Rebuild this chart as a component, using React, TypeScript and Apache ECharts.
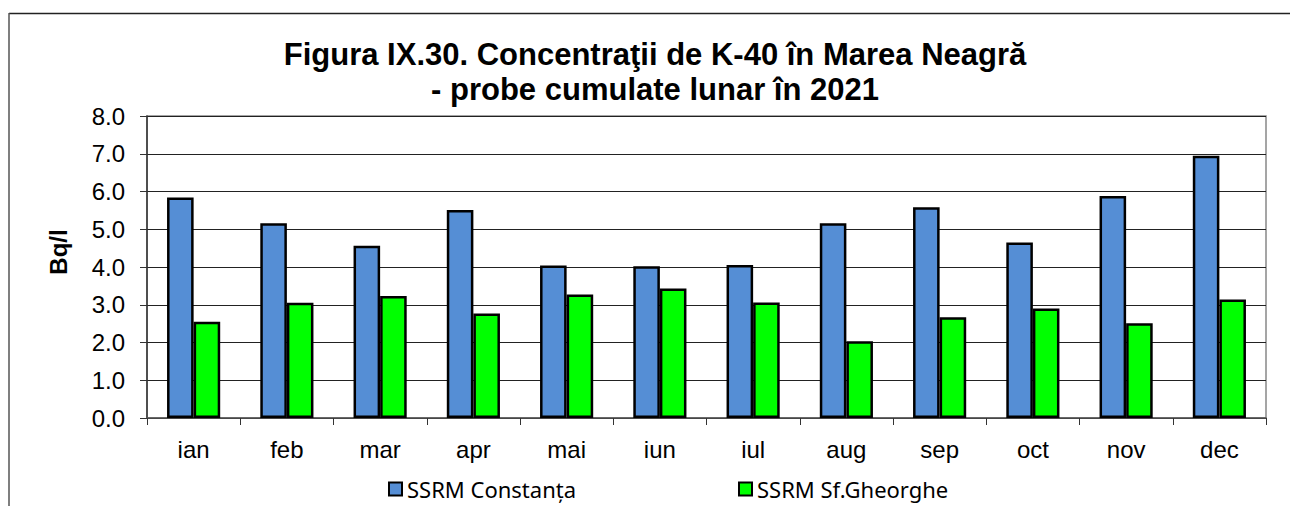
import React, { useEffect, useRef } from "react";
import * as echarts from "echarts";

const months = ["ian", "feb", "mar", "apr", "mai", "iun", "iul", "aug", "sep", "oct", "nov", "dec"];
const constanta = [5.84, 5.16, 4.56, 5.51, 4.04, 4.02, 4.05, 5.16, 5.58, 4.65, 5.88, 6.95];
const sfGheorghe = [2.55, 3.05, 3.23, 2.77, 3.27, 3.43, 3.06, 2.03, 2.67, 2.9, 2.51, 3.14];
const seriesNames = ["SSRM Constanța", "SSRM Sf.Gheorghe"];
const titleText = "Figura IX.30. Concentraţii de K-40 în Marea Neagră\n- probe cumulate lunar în 2021";
const yName = "Bq/l";

export default function App() {
  const ref = useRef<HTMLDivElement>(null);
  useEffect(() => {
    document.body.style.margin = "0";
    const chart = echarts.init(ref.current!, null, { renderer: "svg" });
    const legendText = { fontFamily: "Noto Sans", fontSize: 22, lineHeight: 26, color: "#000" };
    chart.setOption({
      animation: false,
      backgroundColor: "#fff",
      title: {
        text: titleText,
        left: 650,
        top: 32,
        textAlign: "center",
        textStyle: {
          fontFamily: "Liberation Sans",
          fontWeight: "bold",
          fontSize: 31,
          lineHeight: 35,
          color: "#000",
        },
      },
      grid: { left: 147, top: 116, right: 24, bottom: 88, show: true, borderColor: "#888", borderWidth: 1.5, backgroundColor: "transparent" },
      legend: [
        {
          data: [seriesNames[0]],
          left: 386,
          top: 474,
          padding: 2,
          itemWidth: 13,
          itemHeight: 13,
          itemGap: 6,
          icon: "rect",
          textStyle: legendText,
        },
        {
          data: [seriesNames[1]],
          left: 736,
          top: 474,
          padding: 2,
          itemWidth: 13,
          itemHeight: 13,
          icon: "rect",
          textStyle: legendText,
        },
      ],
      xAxis: {
        type: "category",
        data: months,
        boundaryGap: true,
        axisLine: { show: true, lineStyle: { color: "#555", width: 1.5 } },
        axisTick: { show: true, interval: 0, length: 7, lineStyle: { color: "#333" } },
        axisLabel: { fontFamily: "Liberation Sans", fontSize: 24, color: "#000", margin: 19 },
      },
      yAxis: {
        type: "value",
        min: 0,
        max: 8,
        interval: 1,
        axisLine: { show: true, lineStyle: { color: "#333", width: 1.5 } },
        axisTick: { show: true, length: 7, lineStyle: { color: "#333" } },
        axisLabel: {
          fontFamily: "Liberation Sans",
          fontSize: 24,
          color: "#000",
          margin: 22,
          formatter: (v: number) => v.toFixed(1),
        },
        splitLine: { show: true, lineStyle: { color: "#222", width: 1 } },
      },
      series: [
        {
          name: seriesNames[0],
          type: "bar",
          data: constanta,
          barGap: "0%",
          barCategoryGap: "43%",
          itemStyle: { color: "#558ED5", borderColor: "#000", borderWidth: 2.5 },
        },
        {
          name: seriesNames[1],
          type: "bar",
          data: sfGheorghe,
          barGap: "0%",
          barCategoryGap: "43%",
          itemStyle: { color: "#00FF00", borderColor: "#000", borderWidth: 2.5 },
        },
      ],
      graphic: [
        { type: "line", shape: { x1: 9, y1: 13.5, x2: 1290, y2: 13.5 }, style: { stroke: "#222", lineWidth: 1.5 } },
        { type: "line", shape: { x1: 9, y1: 13, x2: 9, y2: 506 }, style: { stroke: "#555", lineWidth: 1.5 } },
        {
          type: "text",
          x: 58,
          y: 252,
          rotation: Math.PI / 2,
          style: {
            text: yName,
            fontFamily: "Liberation Sans",
            fontWeight: "bold",
            fontSize: 24,
            fill: "#000",
            align: "center",
            verticalAlign: "middle",
          },
        },
      ],
    });
    return () => chart.dispose();
  }, []);
  return <div ref={ref} style={{ width: 1290, height: 506 }} />;
}
